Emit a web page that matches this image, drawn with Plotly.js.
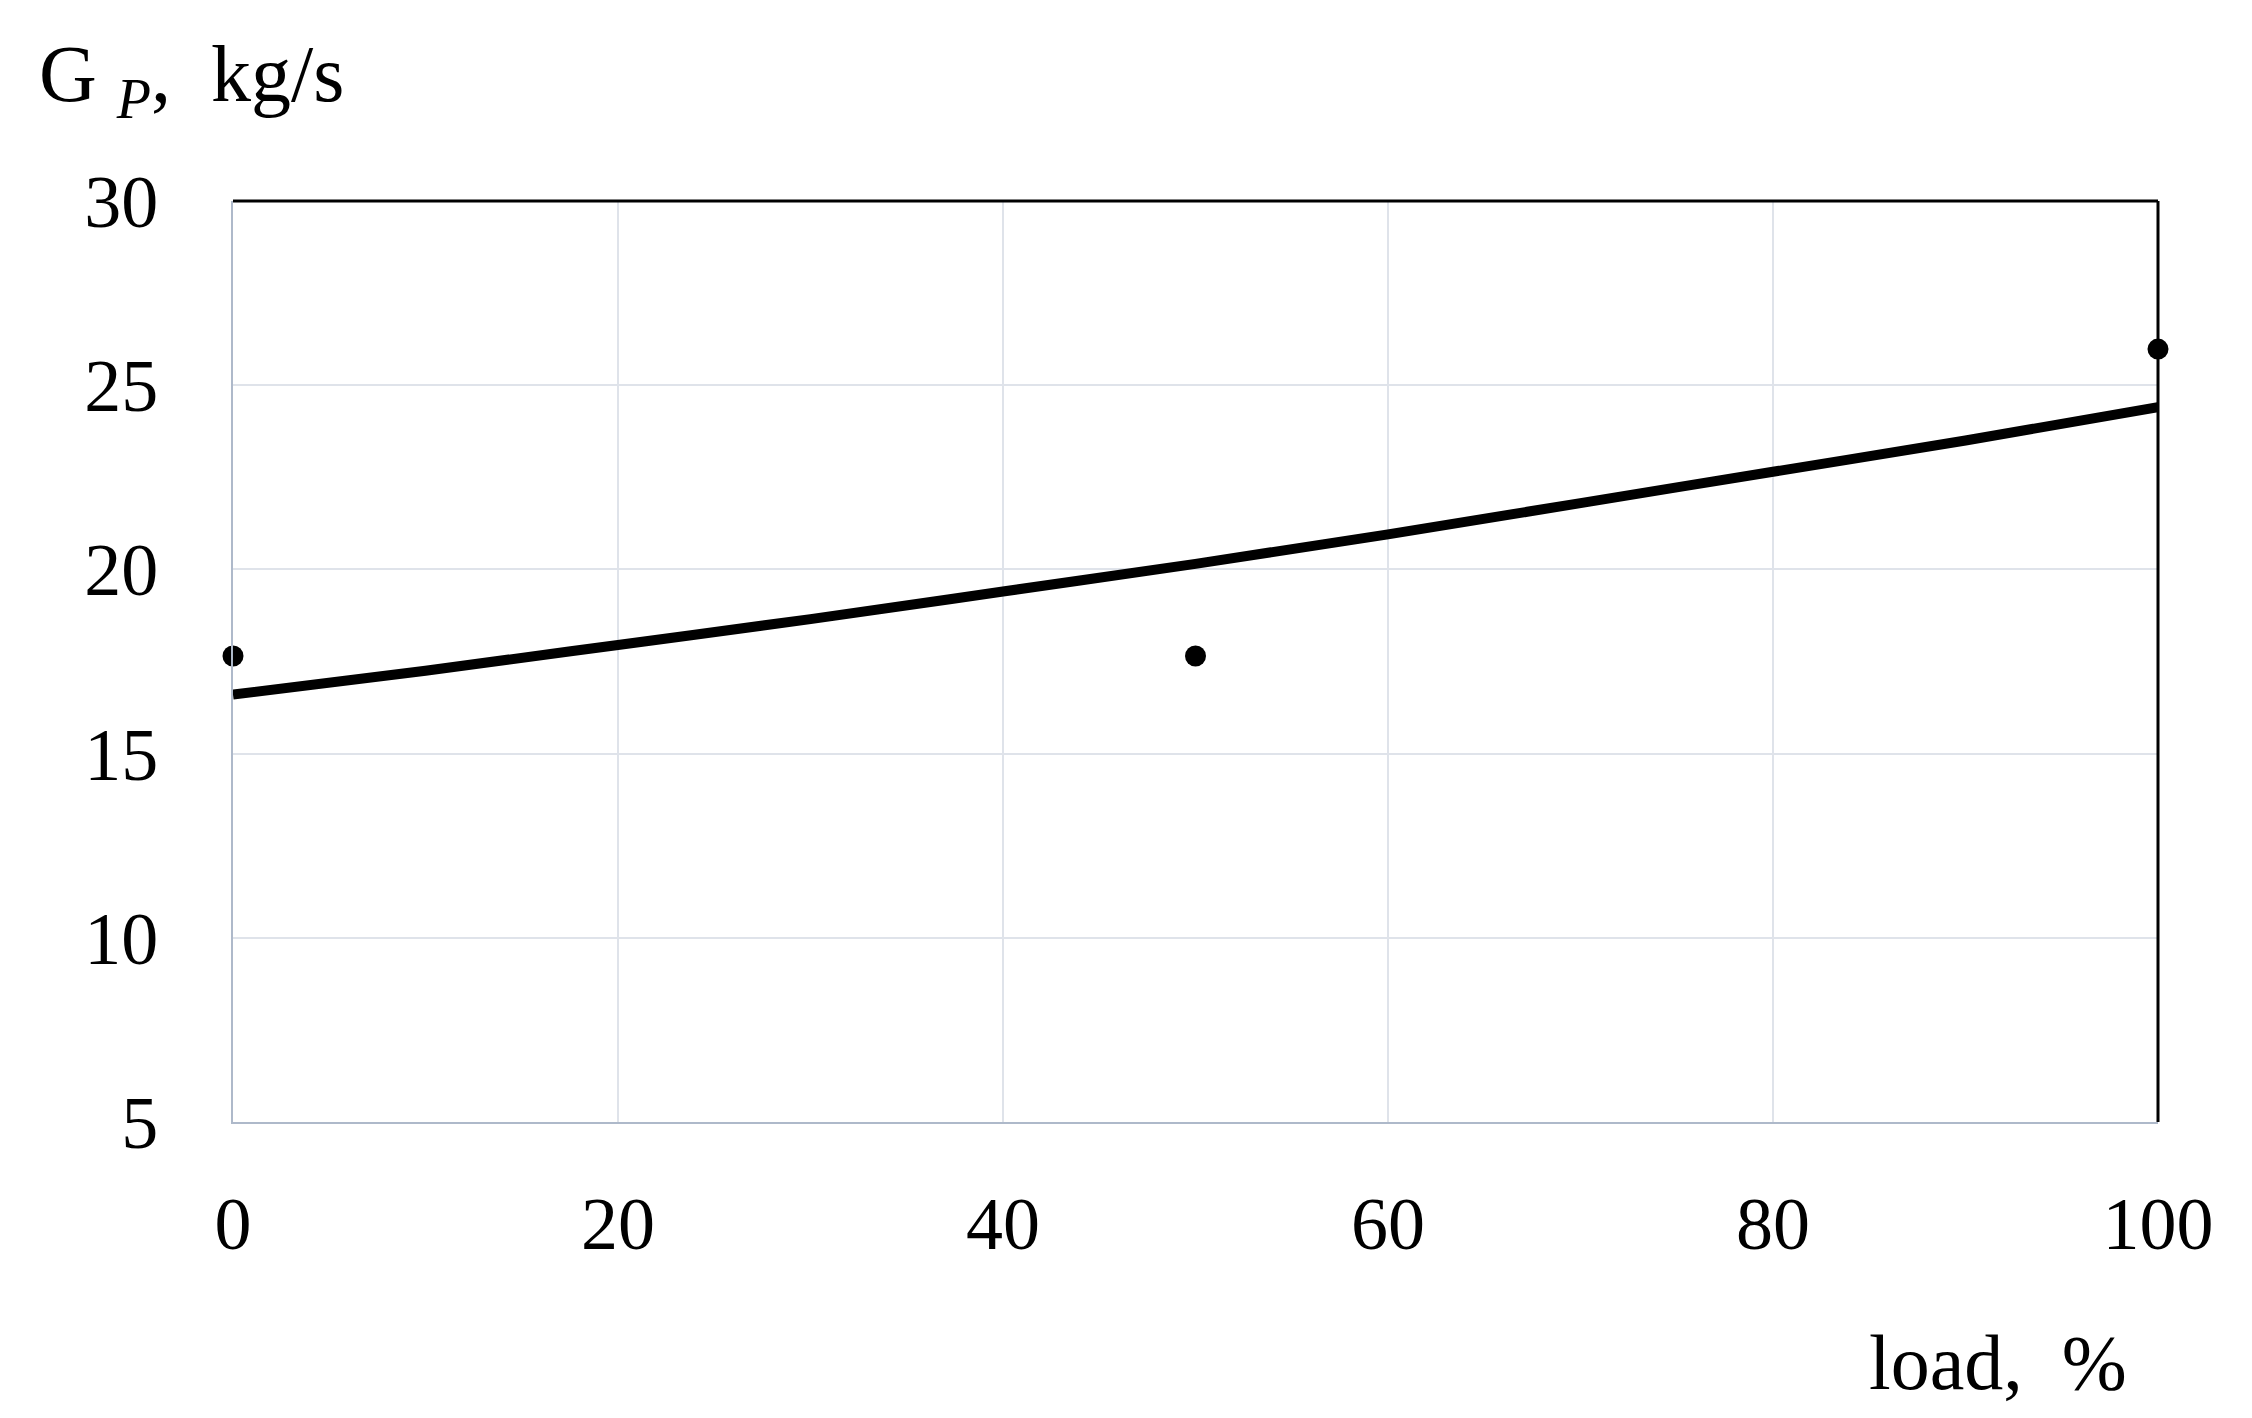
<!DOCTYPE html>
<html>
<head>
<meta charset="utf-8">
<script src="https://cdn.plot.ly/plotly-3.0.1.min.js"></script>
<style>
  html, body { margin: 0; padding: 0; background: #fff; }
  #chart { width: 2252px; height: 1418px; }
</style>
</head>
<body>
<div id="chart"></div>
<script>
// fitted curve
var curveLoad = [0, 10, 20, 30, 40, 50, 60, 70, 80, 90, 100];
var curveFlow = [16.6, 17.25, 17.95, 18.65, 19.4, 20.15, 20.95, 21.8, 22.65, 23.5, 24.4];

// measured points
var pointLoad = [0, 50, 100];
var pointFlow = [17.65, 17.65, 25.98];

var xTicks = [0, 20, 40, 60, 80, 100];
var yTicks = [5, 10, 15, 20, 25, 30];

var serif = "Liberation Serif, Times New Roman, serif";

var curve = {
    x: curveLoad,
    y: curveFlow,
    mode: "lines",
    line: {color: "#000", width: 10, shape: "spline"},
    hoverinfo: "skip",
    cliponaxis: false
};

var points = {
    x: pointLoad,
    y: pointFlow,
    mode: "markers",
    marker: {color: "#000", size: 21},
    cliponaxis: false
};

var layout = {
    width: 2252,
    height: 1418,
    margin: {l: 233, r: 94, t: 201, b: 296},
    paper_bgcolor: "#fff",
    plot_bgcolor: "#fff",
    showlegend: false,
    font: {family: serif, color: "#000", size: 74},
    xaxis: {
        range: [0, 100],
        tickvals: xTicks,
        showgrid: true,
        gridcolor: "#dfe3ea",
        gridwidth: 2,
        zeroline: false,
        showline: true,
        linecolor: "#aeb9ca",
        linewidth: 2,
        ticks: "",
        ticklabelstandoff: 36,
        tickfont: {family: serif, size: 74}
    },
    yaxis: {
        range: [5, 30],
        tickvals: yTicks,
        showgrid: true,
        gridcolor: "#dfe3ea",
        gridwidth: 2,
        zeroline: false,
        showline: true,
        linecolor: "#aeb9ca",
        linewidth: 2,
        ticks: "",
        ticklabelstandoff: 58,
        tickfont: {family: serif, size: 74}
    },
    shapes: [
        {type: "line", xref: "paper", yref: "paper", x0: 0, x1: 1, y0: 1, y1: 1,
         line: {color: "#000", width: 3}},
        {type: "line", xref: "paper", yref: "paper", x0: 1, x1: 1, y0: 0, y1: 1,
         line: {color: "#000", width: 3}}
    ],
    annotations: [
        {text: "G <sub><i>P</i></sub>,  kg/s", xref: "paper", yref: "paper",
         x: -0.102, y: 1.075, xanchor: "left", yanchor: "bottom", showarrow: false,
         font: {family: serif, size: 80}},
        {text: "load,  %", xref: "paper", yref: "paper",
         x: 0.985, y: -0.31, xanchor: "right", yanchor: "bottom", showarrow: false,
         font: {family: serif, size: 78}}
    ]
};

Plotly.newPlot("chart", [curve, points], layout, {staticPlot: true});
</script>
</body>
</html>
